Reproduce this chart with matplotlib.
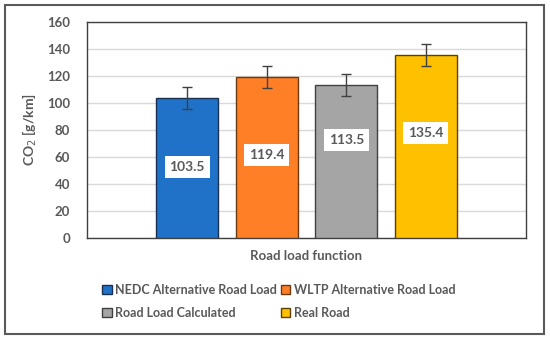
import matplotlib
matplotlib.use("Agg")
import matplotlib.pyplot as plt
from matplotlib.patches import Rectangle

categories = ["NEDC Alternative Road Load", "WLTP Alternative Road Load",
              "Road Load Calculated", "Real Road"]
values = [103.5, 119.4, 113.5, 135.4]
errors = [8.3, 8.2, 8.2, 8.2]
label_y = [52.6, 61.5, 72.6, 77.8]
colors = ["#1F72C8", "#FF7F27", "#A5A5A5", "#FFC000"]
edges = ["#1A3050", "#6B3A10", "#404040", "#5A4200"]
yticks = [0, 20, 40, 60, 80, 100, 120, 140, 160]

plt.rcParams['font.family'] = ['Lato', 'DejaVu Sans']
txt = "#595959"

fig = plt.figure(figsize=(5.5, 3.4), dpi=100)
ax = fig.add_axes([87/550, 1-238/340, 439/550, 216/340])

width = 62/439
step = 79.5/439
for i, (v, e, c, ec, ly, name) in enumerate(zip(values, errors, colors, edges, label_y, categories)):
    x = (i - 1.5) * step
    ax.bar(x, v, width=width, color=c, edgecolor=ec, linewidth=1.0, zorder=3, label=name)
    ax.errorbar(x, v, yerr=e, fmt='none', ecolor="#404040", elinewidth=1.0, capsize=3.5, capthick=1.0, zorder=4)
    ax.text(x, ly, f"{v:.1f}", ha='center', va='center', fontsize=10, fontweight='bold', color=txt,
            bbox=dict(boxstyle='square,pad=0.35', facecolor='white', edgecolor='none'), zorder=5)

ax.set_xlim(-0.5, 0.5)
ax.set_ylim(0, 160)
ax.set_yticks(yticks)
ax.set_xticks([])
ax.yaxis.grid(True, color="#D9D9D9", linewidth=1.0, zorder=0)
ax.set_axisbelow(True)
for s in ax.spines.values():
    s.set_color("#404040")
    s.set_linewidth(1.0)
ax.tick_params(axis='y', length=0, pad=12, labelsize=9.5, labelcolor=txt)
for lab in ax.get_yticklabels():
    lab.set_fontweight('bold')
ax.set_ylabel("CO$_2$ [g/km]", fontsize=10, fontweight='bold', color=txt, labelpad=6)
ax.set_xlabel("Road load function", fontsize=9.5, fontweight='bold', color=txt, labelpad=9)

handles, labels = ax.get_legend_handles_labels()
order = [0, 2, 1, 3]
leg = fig.legend([handles[k] for k in order], [labels[k] for k in order], ncol=2,
                 loc='upper left', bbox_to_anchor=(91/550, 1-273/340),
                 frameon=False, handlelength=0.75, handleheight=0.75, handletextpad=0.3,
                 columnspacing=0.3, labelspacing=0.85,
                 prop={'weight': 'bold', 'size': 9})
for t in leg.get_texts():
    t.set_color(txt)

fig.patches.append(Rectangle((5/550, 6/340), 539/550, 329/340, transform=fig.transFigure,
                             fill=False, edgecolor="#595959", linewidth=1.5))

fig.savefig("out.png", dpi=100)
